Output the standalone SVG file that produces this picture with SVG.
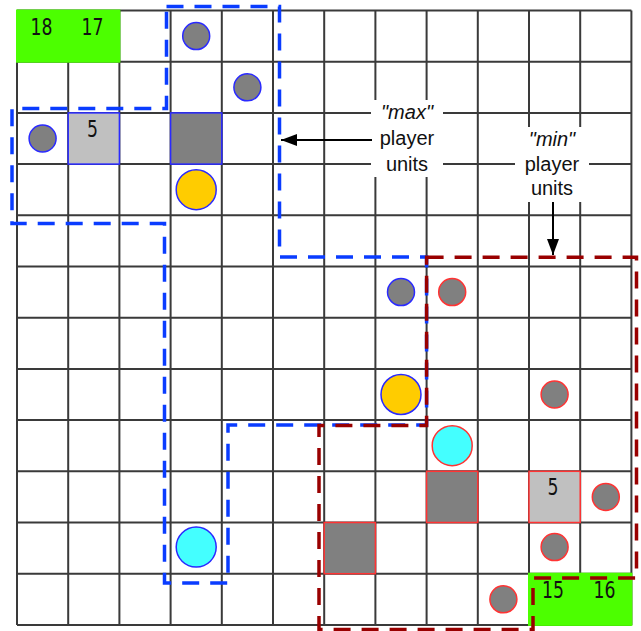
<svg xmlns="http://www.w3.org/2000/svg" width="641" height="631" viewBox="0 0 641 631">
<style>
.grid{stroke:#3a3a3a;stroke-width:2;fill:none}
.goal{fill:#4cff00}
.num{font-family:"DejaVu Sans",sans-serif;font-size:23px;fill:#111;text-anchor:middle}
.bu{stroke:#2a2aff;stroke-width:1.5}
.ru{stroke:#ff3333;stroke-width:1.5}
.gray{fill:#808080}
.light{fill:#c0c0c0}
.orange{fill:#ffcc00}
.cyan{fill:#44ffff}
.maxr{fill:none;stroke:#0a3cff;stroke-width:3.5;stroke-dasharray:17 11}
.minr{fill:none;stroke:#990000;stroke-width:3.5;stroke-dasharray:17 11}
.lbl{font-family:"Liberation Sans",Arial,sans-serif;font-size:20px;fill:#111;text-anchor:middle}
.conn{stroke:#000;stroke-width:2;fill:none}
</style>
<defs>
<marker id="ah" viewBox="0 0 16 12" refX="16" refY="6" markerWidth="16" markerHeight="12" markerUnits="userSpaceOnUse" orient="auto">
<path d="M0,0 L16,6 L0,12 Z" fill="#000"/>
</marker>
</defs>
<rect width="641" height="631" fill="#fff"/>
<g id="grid">
<path class="grid" d="M17,10.5V624.9M68.2,10.5V624.9M119.4,10.5V624.9M170.6,10.5V624.9M221.8,10.5V624.9M273,10.5V624.9M324.2,10.5V624.9M375.4,10.5V624.9M426.6,10.5V624.9M477.8,10.5V624.9M529,10.5V624.9M580.2,10.5V624.9M631.4,10.5V624.9M17,10.5H631.4M17,61.7H631.4M17,112.9H631.4M17,164.1H631.4M17,215.3H631.4M17,266.5H631.4M17,317.7H631.4M17,368.9H631.4M17,420.1H631.4M17,471.3H631.4M17,522.5H631.4M17,573.7H631.4M17,624.9H631.4"/>
</g>
<g id="goal-max">
<rect class="goal" x="16" y="9.5" width="104.4" height="53.2"/>
<text class="num" x="41.5" y="35" textLength="22" lengthAdjust="spacingAndGlyphs">18</text>
<text class="num" x="92.5" y="35" textLength="22" lengthAdjust="spacingAndGlyphs">17</text>
</g>
<g id="goal-min">
<rect class="goal" x="528" y="572.7" width="104.4" height="53.2"/>
<text class="num" x="553" y="597.5" textLength="22" lengthAdjust="spacingAndGlyphs">15</text>
<text class="num" x="604.5" y="597.5" textLength="22" lengthAdjust="spacingAndGlyphs">16</text>
</g>
<g id="max-units">
<circle id="max-u1" class="bu gray" cx="196.2" cy="36.1" r="13.5"/>
<circle id="max-u2" class="bu gray" cx="247.4" cy="87.3" r="13.5"/>
<circle id="max-u3" class="bu gray" cx="42.6" cy="138.5" r="13.5"/>
<g id="max-base"><rect class="bu light" x="68.2" y="112.9" width="51.2" height="51.2"/><text class="num" x="92.5" y="137" textLength="11" lengthAdjust="spacingAndGlyphs">5</text></g>
<rect id="max-block" class="bu gray" x="170.6" y="112.9" width="51.2" height="51.2"/>
<circle id="max-u4" class="bu orange" cx="196.2" cy="189.7" r="20"/>
<circle id="max-u5" class="bu gray" cx="401" cy="292.1" r="13.5"/>
<circle id="max-u6" class="bu orange" cx="401" cy="394.5" r="20"/>
<circle id="max-u7" class="bu cyan" cx="196.2" cy="547.1" r="20"/>
</g>
<g id="min-units">
<circle id="min-u1" class="ru gray" cx="452.2" cy="292.1" r="13.5"/>
<circle id="min-u2" class="ru gray" cx="554.6" cy="394.5" r="13.5"/>
<circle id="min-u3" class="ru cyan" cx="452.2" cy="445.7" r="20"/>
<rect id="min-block1" class="ru gray" x="426.6" y="471.3" width="51.2" height="51.2"/>
<g id="min-base"><rect class="ru light" x="529" y="471.3" width="51.2" height="51.2"/><text class="num" x="553" y="495.3" textLength="11" lengthAdjust="spacingAndGlyphs">5</text></g>
<circle id="min-u4" class="ru gray" cx="605.8" cy="496.9" r="13.5"/>
<circle id="min-u5" class="ru gray" cx="554.6" cy="547.1" r="13.5"/>
<rect id="min-block2" class="ru gray" x="324.2" y="522.5" width="51.2" height="51.2"/>
<circle id="min-u6" class="ru gray" cx="503.4" cy="599.3" r="13.5"/>
</g>
<g id="max-region">
<path class="maxr" d="M166.5,6.5H279.5V257H426.6V425H228V583H164.5V223.5H12V108.5H166.5Z"/>
</g>
<g id="min-region">
<path class="minr" d="M426.6,257.3H636.5V578H533V629.5H319V425.5H426.6Z"/>
</g>
<g id="label-max">
<rect x="371" y="100" width="72" height="77" fill="#fff"/>
<text class="lbl" x="407" y="119" font-style="italic">"max"</text>
<text class="lbl" x="407" y="145">player</text>
<text class="lbl" x="407" y="171">units</text>
</g>
<g id="label-min">
<rect x="515" y="127" width="74" height="75" fill="#fff"/>
<text class="lbl" x="552" y="146" font-style="italic">"min"</text>
<text class="lbl" x="552" y="171">player</text>
<text class="lbl" x="552" y="195">units</text>
</g>
<g id="connectors">
<line class="conn" x1="372" y1="140" x2="281" y2="140" marker-end="url(#ah)"/>
<line class="conn" x1="553" y1="202" x2="553" y2="255" marker-end="url(#ah)"/>
</g>
</svg>
